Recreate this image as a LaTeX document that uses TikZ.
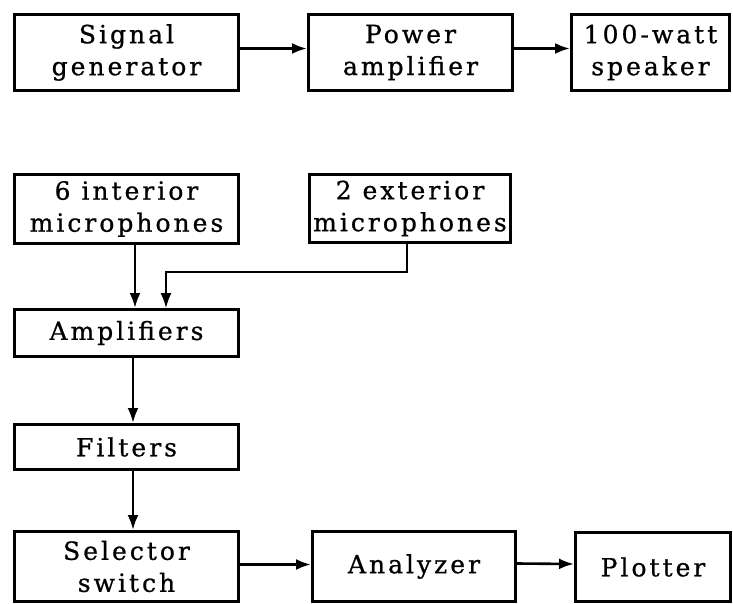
\documentclass[tikz,border=0pt]{standalone}
\usepackage{fontspec}
\setmainfont{DejaVu Serif}[LetterSpace=12,FakeBold=0.8]
\usetikzlibrary{arrows.meta}
\begin{document}
\begin{tikzpicture}[x=1pt,y=-1pt,
  blk/.style={draw, line width=3.2pt, align=center, inner sep=0pt,
    font=\fontsize{25}{32}\selectfont},
  arr/.style={line width=2.6pt, -{Latex[length=15pt,width=11pt]}},
  arrthin/.style={line width=1.4pt, -{Latex[length=15pt,width=11pt]}}]
\useasboundingbox (0,0) rectangle (733,604);
% row 1
\node[blk, minimum width=223.8pt, minimum height=75.8pt] (sig) at (126.5,52.5) {Signal\\generator};
\node[blk, minimum width=203.8pt, minimum height=75.8pt] (pow) at (410.5,52.5) {Power\\amplifier};
\node[blk, minimum width=157.8pt, minimum height=75.8pt] (spk) at (650.5,52.5) {100-watt\\speaker};
% microphones
\node[blk, minimum width=223.8pt, minimum height=68.8pt] (int) at (126.5,209) {6 interior\\microphones};
\node[blk, minimum width=200.8pt, minimum height=67.8pt] (ext) at (410,208.5) {2 exterior\\microphones};
% chain
\node[blk, minimum width=223.8pt, minimum height=46.8pt] (amp) at (126.5,333) {Amplifiers};
\node[blk, minimum width=223.8pt, minimum height=44.8pt] (fil) at (126.5,447) {Filters};
\node[blk, minimum width=223.8pt, minimum height=69.8pt] (sel) at (126.5,566.5) {Selector\\switch};
\node[blk, minimum width=202.8pt, minimum height=69.8pt] (ana) at (414,566.5) {Analyzer};
\node[blk, minimum width=154.8pt, minimum height=68.8pt] (plo) at (653,567) {Plotter};
% connectors
\draw[arr] ([yshift=4pt]sig.east) -- ([yshift=4pt]pow.west);
\draw[arr] ([yshift=4pt]pow.east) -- ([yshift=4pt]spk.west);
\draw[arr] ([xshift=8.5pt]int.south) -- ([xshift=8.5pt]amp.north);
\coordinate (j) at (166,272);
\draw[arrthin] ([xshift=-3pt]ext.south) |- (j) -- (j |- amp.north);
\draw[arr] ([xshift=6.5pt]amp.south) -- ([xshift=6.5pt]fil.north);
\draw[arr] ([xshift=6.5pt]fil.south) -- ([xshift=6.5pt]sel.north);
\draw[arr] ([yshift=2pt]sel.east) -- ([yshift=2pt]ana.west);
\draw[arr] ([yshift=3pt]ana.east) -- ([yshift=3pt]plo.west);
\end{tikzpicture}
\end{document}
